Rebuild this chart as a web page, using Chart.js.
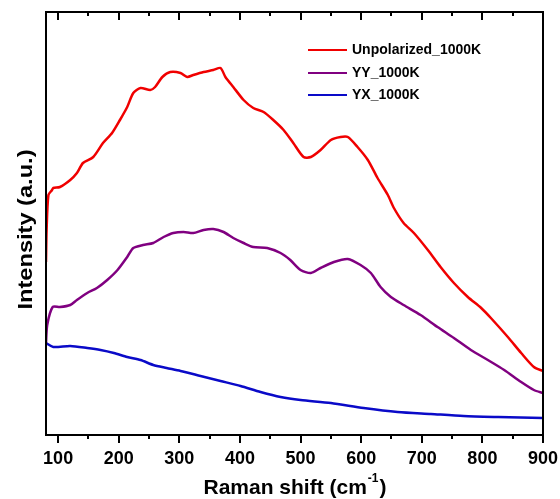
<!DOCTYPE html>
<html lang="en">
<head>
    <meta charset="UTF-8">
    <title>Raman spectra</title>
    <script src="https://cdn.jsdelivr.net/npm/chart.js"></script>
    <style>
        body { margin: 0; background: #fff; }
    </style>
</head>
<body>
    <canvas id="raman-chart" width="560" height="499"></canvas>

    <script>
        // series labels
        var seriesNames = ['Unpolarized_1000K', 'YY_1000K', 'YX_1000K'];
        var seriesColors = ['#f00000', '#800080', '#0a0ac8'];

        // x tick labels (Raman shift, cm-1)
        var majorTicks = [100, 200, 300, 400, 500, 600, 700, 800, 900];
        var minorTicks = [150, 250, 350, 450, 550, 650, 750, 850];

        // Unpolarized_1000K
        var unpolShift = [80, 81, 84, 90, 92, 103, 120, 131, 141, 158, 174, 189, 202, 214, 224, 236, 252, 260, 272, 285,
            302, 313, 323, 340, 356, 368, 376, 389, 406, 422, 439, 455, 472, 488, 505, 517, 533, 550, 566, 578,
            594, 611, 627, 644, 654, 670, 687, 710, 731, 753, 776, 798, 814, 842, 864, 885, 900];
        var unpolInt = [173, 205, 240, 245, 247, 248, 255, 262, 272, 278, 292, 302, 315, 328, 342, 347, 345, 348, 358, 363,
            362, 358, 360, 363, 365, 367, 358, 348, 335, 327, 323, 315, 305, 292, 278, 278, 285, 295, 298, 298,
            288, 275, 257, 240, 227, 212, 202, 185, 168, 152, 138, 127, 117, 98, 82, 68, 64];

        // YY_1000K
        var yyShift = [80, 82, 91, 103, 120, 131, 148, 164, 181, 198, 214, 224, 240, 257, 274, 290, 307, 323, 340, 356,
            373, 389, 406, 422, 445, 467, 483, 500, 517, 533, 555, 578, 599, 616, 632, 649, 670, 698, 726, 753,
            781, 809, 836, 864, 885, 900];
        var yyInt = [92, 110, 128, 128, 130, 135, 142, 147, 155, 165, 178, 187, 190, 192, 198, 202, 203, 202, 205, 206,
            203, 197, 192, 188, 187, 182, 175, 165, 162, 167, 173, 176, 170, 162, 148, 138, 130, 120, 108, 97,
            85, 75, 65, 53, 45, 42];

        // YX_1000K
        var yxShift = [80, 92, 120, 148, 170, 192, 214, 236, 257, 279, 302, 335, 368, 401, 434, 467, 500, 550, 604, 660,
            715, 769, 826, 900];
        var yxInt = [92, 88, 89, 87, 85, 82, 78, 75, 70, 67, 64, 59, 54, 49, 43, 38, 35, 32, 27, 23,
            21, 19, 18, 17];

        function toPoints(xs, ys) {
            return xs.map(function(x, i) { return { x: x, y: ys[i] }; });
        }

        var allShifts = [unpolShift, yyShift, yxShift];
        var allInts = [unpolInt, yyInt, yxInt];

        var datasets = seriesNames.map(function(name, i) {
            return {
                label: name,
                data: toPoints(allShifts[i], allInts[i]),
                borderColor: seriesColors[i],
                borderWidth: 2.5,
                pointRadius: 0,
                tension: 0.25,
                fill: false
            };
        });

        var FONT = '"Liberation Sans", Arial, sans-serif';

        // frame, ticks, legend and axis titles
        var framePlugin = {
            id: 'frame',
            afterDraw: function(chart) {
                var ctx = chart.ctx;
                var area = chart.chartArea;
                var xs = chart.scales.x;
                ctx.save();
                ctx.strokeStyle = '#000';
                ctx.lineWidth = 2;
                ctx.strokeRect(area.left, area.top, area.right - area.left, area.bottom - area.top);

                // ticks: outward at bottom, inward at top
                ctx.lineWidth = 2;
                function tick(v, len) {
                    var px = Math.round(xs.getPixelForValue(v));
                    ctx.beginPath();
                    ctx.moveTo(px, area.bottom);
                    ctx.lineTo(px, area.bottom + len);
                    ctx.moveTo(px, area.top);
                    ctx.lineTo(px, area.top + len);
                    ctx.stroke();
                }
                majorTicks.forEach(function(v) { tick(v, 8); });
                minorTicks.forEach(function(v) { tick(v, 4); });

                // legend
                ctx.font = 'bold 14px ' + FONT;
                ctx.textBaseline = 'middle';
                ctx.textAlign = 'left';
                var rows = [50, 73, 95];
                chart.data.datasets.forEach(function(ds, i) {
                    ctx.strokeStyle = ds.borderColor;
                    ctx.lineWidth = 2;
                    ctx.beginPath();
                    ctx.moveTo(308, rows[i]);
                    ctx.lineTo(347, rows[i]);
                    ctx.stroke();
                    ctx.fillStyle = '#000';
                    ctx.save();
                    ctx.translate(352, rows[i]);
                    ctx.scale(1, 1.1);
                    ctx.fillText(ds.label, 0, 0);
                    ctx.restore();
                });

                // y title (slightly stretched like the source image)
                ctx.font = 'bold 20px ' + FONT;
                ctx.textAlign = 'center';
                ctx.fillStyle = '#000';
                ctx.save();
                ctx.translate(26, (area.top + area.bottom) / 2 + 6);
                ctx.rotate(-Math.PI / 2);
                ctx.scale(1.18, 1);
                ctx.fillText('Intensity (a.u.)', 0, 0);
                ctx.restore();

                // x title with superscript
                var main = 'Raman shift (cm';
                var sup = '-1';
                var close = ')';
                ctx.textAlign = 'left';
                ctx.font = 'bold 21px ' + FONT;
                var w1 = ctx.measureText(main).width;
                var w3 = ctx.measureText(close).width;
                ctx.font = 'bold 12px ' + FONT;
                var w2 = ctx.measureText(sup).width;
                var x0 = 294 - (w1 + w2 + w3) / 2;
                var yb = 488;
                ctx.font = 'bold 21px ' + FONT;
                ctx.fillText(main, x0, yb);
                ctx.font = 'bold 12px ' + FONT;
                ctx.fillText(sup, x0 + w1 + 1, yb - 9);
                ctx.font = 'bold 21px ' + FONT;
                ctx.fillText(close, x0 + w1 + w2 + 2, yb);
                ctx.restore();
            }
        };

        var ctx = document.getElementById('raman-chart').getContext('2d');
        var ramanChart = new Chart(ctx, {
            type: 'line',
            data: { datasets: datasets },
            options: {
                responsive: false,
                animation: false,
                layout: { padding: { left: 46, right: 17, top: 12, bottom: 0 } },
                plugins: {
                    legend: { display: false },
                    tooltip: { enabled: false }
                },
                scales: {
                    x: {
                        type: 'linear',
                        min: 80,
                        max: 900,
                        afterBuildTicks: function(scale) {
                            scale.ticks = majorTicks.map(function(v) { return { value: v }; });
                        },
                        afterFit: function(scale) {
                            scale.height = 64;
                            scale.paddingLeft = 0;
                            scale.paddingRight = 0;
                        },
                        grid: { display: false, drawTicks: false },
                        border: { display: false },
                        ticks: {
                            color: '#000',
                            padding: 13,
                            maxRotation: 0,
                            autoSkip: false,
                            font: { family: FONT, size: 18, weight: 'bold' }
                        }
                    },
                    y: {
                        display: false,
                        min: 0,
                        max: 423
                    }
                }
            },
            plugins: [framePlugin]
        });
    </script>
</body>
</html>
